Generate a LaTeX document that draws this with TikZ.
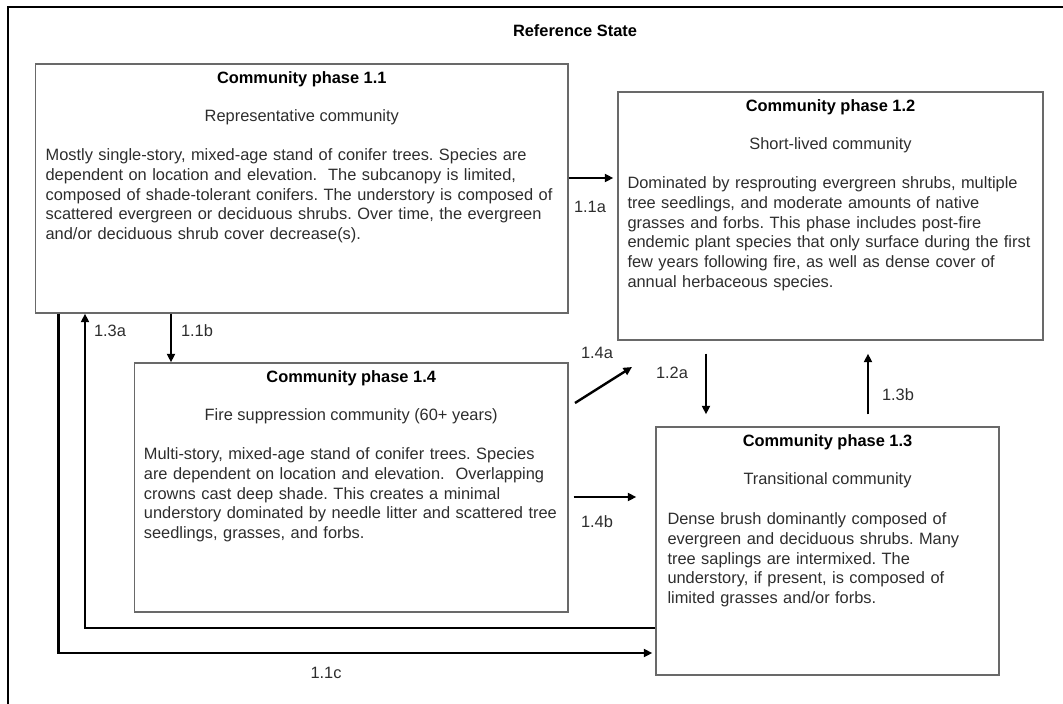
\documentclass[tikz,border=0pt]{standalone}
\usepackage{fontspec}
\setmainfont{Liberation Sans}
\usetikzlibrary{arrows.meta,calc}
\newcommand\bodyfont{\fontsize{16.4}{19.7}\selectfont}
\definecolor{boxgray}{RGB}{105,105,105}
\definecolor{txt}{RGB}{45,45,45}
\frenchspacing
\begin{document}
\begin{tikzpicture}[x=1pt,y=-1pt,
  box/.style={draw=boxgray,line width=1.4pt,inner sep=0pt,rectangle},
  head/.style={font=\bodyfont\bfseries,anchor=base,inner sep=0pt,text=black},
  sub/.style={font=\bodyfont,anchor=base,inner sep=0pt,text=txt},
  body/.style={font=\bodyfont,anchor=base west,inner sep=0pt,text=txt,align=left,text width=#1},
  lab/.style={font=\bodyfont,anchor=center,inner sep=0pt,text=txt},
  arr/.style={line width=2.4pt,-{Triangle[length=8.5pt,width=8pt]}},
  frame/.style={line width=2.6pt}
]
\useasboundingbox (0,0) rectangle (1063,704);
% outer frame (only top and left visible)
\draw[frame] (1070,7) -- (8,7) -- (8,712);
\node[font=\bodyfont\bfseries,inner sep=0pt,text=black] (title) at (575,31) {Reference State};

% boxes
\node[box,minimum width=532.4pt,minimum height=249pt] (b11) at (301.8,188.5) {};
\node[box,minimum width=425pt,minimum height=248pt] (b12) at (830.5,216) {};
\node[box,minimum width=433.6pt,minimum height=249pt] (b14) at (351.2,487.5) {};
\node[box,minimum width=343pt,minimum height=248pt] (b13) at (827.5,551) {};

% box 1.1
\node[head] (h11) at ($(b11.north)+(0,20.5)$) {Community phase 1.1};
\node[sub] (s11) at ($(b11.north)+(0,58.5)$) {Representative community};
\node[body=520pt] (t11) at ($(b11.north west)+(10.5,97.5)$) {Mostly single-story, mixed-age stand of conifer trees. Species are\\
dependent on location and elevation.\ \ The subcanopy is limited,\\
composed of shade-tolerant conifers. The understory is composed of\\
scattered evergreen or deciduous shrubs. Over time, the evergreen\\
and/or deciduous shrub cover decrease(s).};

% box 1.2
\node[head] (h12) at ($(b12.north)+(0,20.5)$) {Community phase 1.2};
\node[sub] (s12) at ($(b12.north)+(0,58.5)$) {Short-lived community};
\node[body=415pt] (t12) at ($(b12.north west)+(10,97.5)$) {Dominated by resprouting evergreen shrubs, multiple\\
tree seedlings, and moderate amounts of native\\
grasses and forbs. This phase includes post-fire\\
endemic plant species that only surface during the first\\
few years following fire, as well as dense cover of\\
annual herbaceous species.};

% box 1.4
\node[head] (h14) at ($(b14.north)+(0,20.5)$) {Community phase 1.4};
\node[sub] (s14) at ($(b14.north)+(0,58.5)$) {Fire suppression community (60+ years)};
\node[body=425pt] (t14) at ($(b14.north west)+(10,97.5)$) {Multi-story, mixed-age stand of conifer trees. Species\\
are dependent on location and elevation.\ \ Overlapping\\
crowns cast deep shade. This creates a minimal\\
understory dominated by needle litter and scattered tree\\
seedlings, grasses, and forbs.};

% box 1.3
\node[head] (h13) at ($(b13.north)+(0,20.5)$) {Community phase 1.3};
\node[sub] (s13) at ($(b13.north)+(0,58.5)$) {Transitional community};
\node[body=330pt] (t13) at ($(b13.north west)+(12,98.5)$) {Dense brush dominantly composed of\\
evergreen and deciduous shrubs. Many\\
tree saplings are intermixed. The\\
understory, if present, is composed of\\
limited grasses and/or forbs.};

% helper coordinates
\coordinate (y11a) at (0,178);
\coordinate (r11b) at (171,0);
\coordinate (r13a) at (85,628);
\coordinate (r11c) at (58.5,653);
\coordinate (r12a) at (706,0);
\coordinate (r13b) at (868,0);
\coordinate (y14b) at (0,497);
\coordinate (s14a) at (575,403);
\coordinate (e14a) at (632,367);

% connectors
\draw[arr,shorten >=4pt] (b11.east |- y11a) -- (b12.west |- y11a);
\draw[arr] (b11.south -| r11b) -- (b14.north -| r11b);
\draw[arr] (b13.west |- r13a) -| (b11.south -| r13a);
\draw[arr,shorten >=3pt] (b11.south -| r11c) |- (b13.west |- r11c);
\draw[arr,shorten <=13pt,shorten >=12pt] (b12.south -| r12a) -- (b13.north -| r12a);
\draw[arr,shorten <=12pt,shorten >=13pt] (b13.north -| r13b) -- (b12.south -| r13b);
\draw[arr,shorten <=5pt,shorten >=19pt] (b14.east |- y14b) -- (b13.west |- y14b);
\draw[arr] (s14a) -- (e14a);

% labels
\node[lab] (l11a) at (590,207) {1.1a};
\node[lab] (l11b) at (197,331) {1.1b};
\node[lab] (l13a) at (110,331) {1.3a};
\node[lab] (l11c) at (326,673) {1.1c};
\node[lab] (l14a) at (597,353) {1.4a};
\node[lab] (l12a) at (672,373) {1.2a};
\node[lab] (l13b) at (898,395) {1.3b};
\node[lab] (l14b) at (597,522) {1.4b};
\end{tikzpicture}
\end{document}
